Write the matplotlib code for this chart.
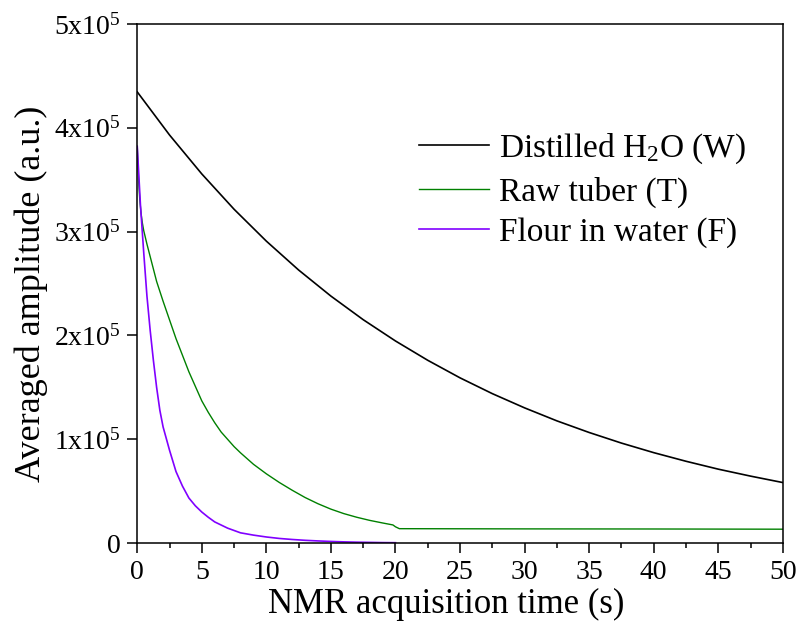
import matplotlib
matplotlib.use('Agg')
import matplotlib.pyplot as plt
from matplotlib.ticker import MultipleLocator, FuncFormatter
import numpy as np

plt.rcParams.update({
    'font.family': ['Liberation Serif', 'DejaVu Serif'],
    'mathtext.fontset': 'custom',
    'mathtext.rm': 'Liberation Serif',
    'mathtext.it': 'Liberation Serif:italic',
})

# amplitudes in units of 1e5
t_w = [0, 2.5, 5, 7.5, 10, 12.5, 15, 17.5, 20, 22.5, 25, 27.5, 30, 32.5, 35,
       37.5, 40, 42.5, 45, 47.5, 50]
amp_w = [4.345, 3.93, 3.555, 3.215, 2.908, 2.630, 2.379, 2.152, 1.947, 1.761,
         1.592, 1.440, 1.303, 1.178, 1.066, 0.964, 0.872, 0.789, 0.713, 0.646, 0.584]

t_t = [0, 0.1, 0.2, 0.3, 0.4, 0.5, 0.75, 1.0, 1.5, 2.0, 2.5, 3.0, 3.5, 4.0, 4.5,
       5.0, 5.5, 6.0, 6.5, 7.0, 7.5, 8.0, 9.0, 10, 11, 12, 13, 14, 15, 16, 17,
       18, 19, 19.8, 20.0, 20.3, 25, 30, 40, 50]
amp_t = [3.82, 3.50, 3.30, 3.17, 3.08, 3.01, 2.88, 2.76, 2.52, 2.33, 2.15, 1.97,
         1.81, 1.65, 1.51, 1.37, 1.26, 1.16, 1.07, 1.00, 0.93, 0.87, 0.76, 0.668,
         0.585, 0.51, 0.44, 0.38, 0.328, 0.285, 0.25, 0.22, 0.195, 0.176, 0.158,
         0.14, 0.139, 0.138, 0.137, 0.135]

t_f = [0, 0.25, 0.5, 0.75, 1.0, 1.25, 1.5, 1.75, 2.0, 2.5, 3.0, 3.5, 4.0, 4.5,
       5.0, 5.5, 6.0, 7.0, 8.0, 9.0, 10, 11, 12, 13, 14, 15, 16, 17, 18, 19, 20]
amp_f = [3.82, 3.25, 2.80, 2.38, 2.05, 1.76, 1.50, 1.28, 1.12, 0.895, 0.69, 0.55,
         0.435, 0.36, 0.30, 0.25, 0.205, 0.145, 0.10, 0.078, 0.06, 0.046, 0.036,
         0.028, 0.022, 0.017, 0.013, 0.010, 0.008, 0.006, 0.005]

fig = plt.figure(figsize=(7.98, 6.28), dpi=100)
ax = fig.add_axes([0.172, 0.135, 0.809, 0.827])

ax.plot(t_w, np.array(amp_w) * 1e5, color='black', lw=1.2, label=r'Distilled H$_2$O (W)')
ax.plot(t_t, np.array(amp_t) * 1e5, color='#008000', lw=1.0, label='Raw tuber (T)')
ax.plot(t_f, np.array(amp_f) * 1e5, color='#8000FF', lw=1.2, label='Flour in water (F)')

ax.set_xlim(0, 50)
ax.set_ylim(0, 5e5)
ax.xaxis.set_major_locator(MultipleLocator(5))
ax.xaxis.set_minor_locator(MultipleLocator(2.5))
ax.yaxis.set_major_locator(MultipleLocator(1e5))

def yfmt(v, pos):
    n = int(round(v / 1e5))
    if n == 0:
        return '0'
    return r'$\mathregular{%dx10^{5}}$' % n

ax.yaxis.set_major_formatter(FuncFormatter(yfmt))
ax.tick_params(which='major', direction='out', length=7, width=1.1, labelsize=20, pad=5)
ax.tick_params(which='minor', direction='out', length=3.5, width=1.1)
ax.tick_params(top=False, right=False)
for s in ax.spines.values():
    s.set_linewidth(1.1)

ax.set_xlabel('NMR acquisition time (s)', fontsize=25, labelpad=2, x=0.478)
ax.set_ylabel('Averaged amplitude (a.u.)', fontsize=26, labelpad=4, y=0.48)

ax.legend(loc='center left', bbox_to_anchor=(0.436, 0.68), frameon=False, fontsize=24,
          handlelength=2.1, handletextpad=0.3, labelspacing=0.3, borderaxespad=0,
          borderpad=0)

fig.savefig('out.png', dpi=100)
